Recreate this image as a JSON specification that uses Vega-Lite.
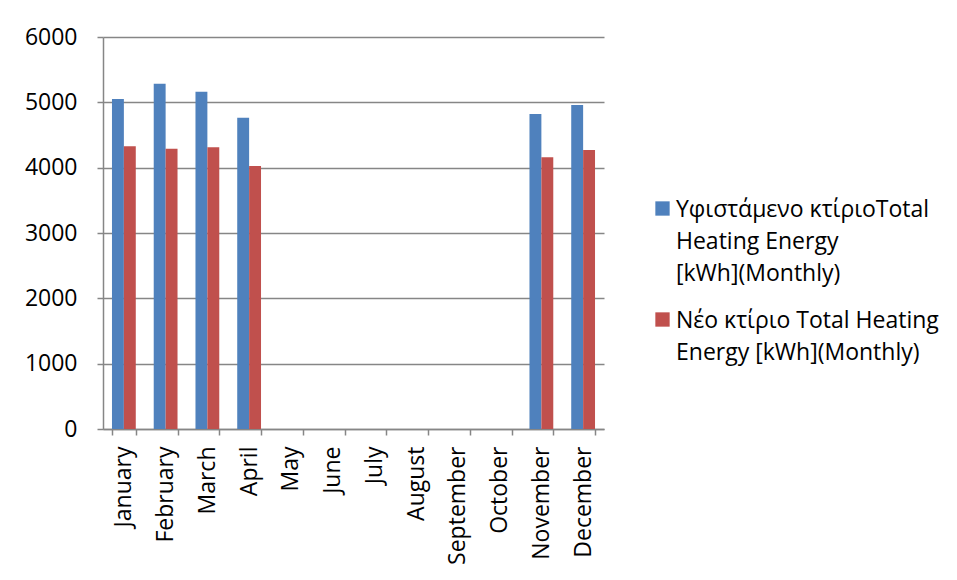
{
  "$schema": "https://vega.github.io/schema/vega-lite/v6.json",
  "width": 501,
  "height": 392,
  "autosize": {"type": "none"},
  "padding": {"left": 103, "top": 37, "right": 353, "bottom": 151},
  "background": "white",
  "config": {
    "view": {"stroke": null},
    "font": "Open Sans"
  },
  "data": {
    "values": [
      {"month": "January", "series": "Υφιστάμενο κτίριοTotal Heating  Energy [kWh](Monthly)", "energy": 5050},
      {"month": "January", "series": "Νέο κτίριο Total Heating Energy [kWh](Monthly)", "energy": 4327},
      {"month": "February", "series": "Υφιστάμενο κτίριοTotal Heating  Energy [kWh](Monthly)", "energy": 5284},
      {"month": "February", "series": "Νέο κτίριο Total Heating Energy [kWh](Monthly)", "energy": 4290},
      {"month": "March", "series": "Υφιστάμενο κτίριοTotal Heating  Energy [kWh](Monthly)", "energy": 5162},
      {"month": "March", "series": "Νέο κτίριο Total Heating Energy [kWh](Monthly)", "energy": 4312},
      {"month": "April", "series": "Υφιστάμενο κτίριοTotal Heating  Energy [kWh](Monthly)", "energy": 4765},
      {"month": "April", "series": "Νέο κτίριο Total Heating Energy [kWh](Monthly)", "energy": 4026},
      {"month": "November", "series": "Υφιστάμενο κτίριοTotal Heating  Energy [kWh](Monthly)", "energy": 4821},
      {"month": "November", "series": "Νέο κτίριο Total Heating Energy [kWh](Monthly)", "energy": 4159},
      {"month": "December", "series": "Υφιστάμενο κτίριοTotal Heating  Energy [kWh](Monthly)", "energy": 4959},
      {"month": "December", "series": "Νέο κτίριο Total Heating Energy [kWh](Monthly)", "energy": 4271}
    ]
  },
  "mark": {"type": "bar"},
  "encoding": {
    "x": {
      "field": "month",
      "type": "nominal",
      "scale": {
        "domain": ["January", "February", "March", "April", "May", "June", "July", "August", "September", "October", "November", "December"],
        "paddingInner": 0.43,
        "paddingOuter": 0.215
      },
      "axis": {
        "title": null,
        "labelAngle": -90,
        "labelFontSize": 23,
        "labelColor": "#000000",
        "labelPadding": 11,
        "tickBand": "extent",
        "tickSize": 6,
        "tickColor": "#868686",
        "tickWidth": 1.5,
        "domainColor": "#868686",
        "domainWidth": 1.5
      }
    },
    "xOffset": {
      "field": "series",
      "type": "nominal",
      "sort": ["Υφιστάμενο κτίριοTotal Heating  Energy [kWh](Monthly)", "Νέο κτίριο Total Heating Energy [kWh](Monthly)"]
    },
    "y": {
      "field": "energy",
      "type": "quantitative",
      "scale": {"domain": [0, 6000], "nice": false},
      "axis": {
        "title": null,
        "format": "d",
        "values": [0, 1000, 2000, 3000, 4000, 5000, 6000],
        "grid": true,
        "gridColor": "#868686",
        "gridWidth": 1.5,
        "labelFontSize": 23,
        "labelColor": "#000000",
        "labelPadding": 20,
        "tickSize": 6,
        "tickColor": "#868686",
        "tickWidth": 1.5,
        "domainColor": "#868686",
        "domainWidth": 1.5
      }
    },
    "color": {
      "field": "series",
      "type": "nominal",
      "scale": {
        "domain": ["Υφιστάμενο κτίριοTotal Heating  Energy [kWh](Monthly)", "Νέο κτίριο Total Heating Energy [kWh](Monthly)"],
        "range": ["#4F81BD", "#C0504D"]
      },
      "legend": {
        "title": null,
        "orient": "none",
        "legendX": 548,
        "legendY": 160,
        "padding": 0,
        "symbolType": "square",
        "symbolSize": 205,
        "symbolStrokeWidth": 0,
        "labelFontSize": 23,
        "labelColor": "#000000",
        "labelLimit": 400,
        "labelOffset": 2,
        "labelBaseline": "alphabetic",
        "rowPadding": 22,
        "labelExpr": "datum.label == 'Υφιστάμενο κτίριοTotal Heating  Energy [kWh](Monthly)' ? ['Υφιστάμενο κτίριοTotal', 'Heating  Energy', '[kWh](Monthly)'] : ['Νέο κτίριο Total Heating', 'Energy [kWh](Monthly)']",
        "encode": {
          "labels": {"update": {"lineHeight": {"value": 32}, "dy": {"value": 8}}}
        }
      }
    }
  }
}
